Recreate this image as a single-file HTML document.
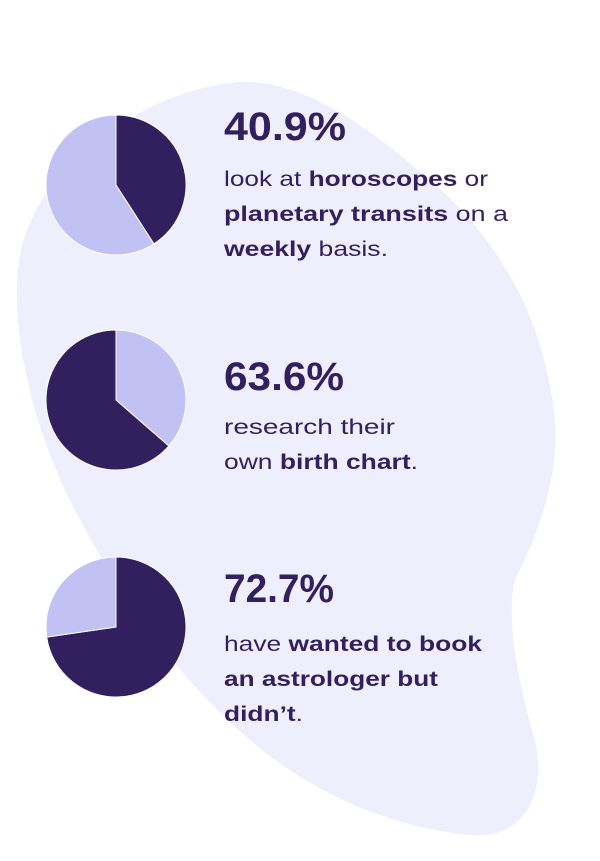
<!DOCTYPE html>
<html><head><meta charset="utf-8"><style>
html,body{margin:0;padding:0;background:#fff;width:600px;height:861px;overflow:hidden}
svg{display:block}
text{font-family:"Liberation Sans",sans-serif;fill:#321f5e}
.h{font-size:40px;font-weight:bold}
.b{font-size:21px}
.k{font-weight:bold}
</style></head><body>
<svg width="600" height="861" viewBox="0 0 600 861">
<path fill="#efeefc" d="M100,140 C150,100 200,85 240,82 C300,80 360,120 430,180 C500,240 545,320 555,420 C560,480 535,540 515,580 C505,620 520,690 535,740 C548,800 520,840 470,835 C400,828 320,800 250,740 C180,680 120,600 70,500 C30,420 12,330 18,270 C22,220 55,170 100,140 Z"/>
<g id="pies"></g>
<text class="h" x="224" y="140" textLength="122" lengthAdjust="spacingAndGlyphs">40.9%</text>
<text class="b" x="224" y="186" textLength="264" lengthAdjust="spacingAndGlyphs">look at <tspan class="k">horoscopes</tspan> or</text>
<text class="b" x="224" y="221" textLength="284" lengthAdjust="spacingAndGlyphs"><tspan class="k">planetary transits</tspan> on a</text>
<text class="b" x="224" y="256" textLength="164" lengthAdjust="spacingAndGlyphs"><tspan class="k">weekly</tspan> basis.</text>
<text class="h" x="224" y="390" textLength="120" lengthAdjust="spacingAndGlyphs">63.6%</text>
<text class="b" x="224" y="434" textLength="171" lengthAdjust="spacingAndGlyphs">research their</text>
<text class="b" x="224" y="469" textLength="194" lengthAdjust="spacingAndGlyphs">own <tspan class="k">birth chart</tspan>.</text>
<text class="h" x="224" y="602" textLength="110" lengthAdjust="spacingAndGlyphs">72.7%</text>
<text class="b" x="224" y="651" textLength="258" lengthAdjust="spacingAndGlyphs">have <tspan class="k">wanted to book</tspan></text>
<text class="b k" x="224" y="686" textLength="214" lengthAdjust="spacingAndGlyphs">an astrologer but</text>
<text class="b" x="224" y="721" textLength="79" lengthAdjust="spacingAndGlyphs"><tspan class="k">didn’t</tspan>.</text>
</svg>
<script>
const statLabels = ["weekly", "birth-chart", "book-astrologer"];
const percentValues = [40.9, 63.6, 72.7];
// 1 = highlighted share drawn dark, 0 = highlighted share drawn light
const darkIsShare = [1, 0, 1];
const NS = "http://www.w3.org/2000/svg";
const g = document.getElementById("pies");
const cx = 116, r = 70, cys = [185, 400, 627];
const dark = "#321f5e", light = "#c1c1f4";
function pt(cy, frac) {
  const a = frac * 2 * Math.PI;
  return [cx + r * Math.sin(a), cy - r * Math.cos(a)];
}
function slice(cy, f0, f1, color, name) {
  const p = document.createElementNS(NS, "path");
  const [x0, y0] = pt(cy, f0), [x1, y1] = pt(cy, f1);
  const large = (f1 - f0) > 0.5 ? 1 : 0;
  p.setAttribute("d", `M${cx},${cy} L${x0},${y0} A${r},${r} 0 ${large} 1 ${x1},${y1} Z`);
  p.setAttribute("fill", color);
  p.setAttribute("stroke", "#ffffff");
  p.setAttribute("stroke-width", "1");
  
  
  g.appendChild(p);
}
percentValues.forEach((v, i) => {
  const f = v / 100, cy = cys[i];
  let shareColor, restColor, shareFrac;
  if (darkIsShare[i]) { shareColor = dark; restColor = light; shareFrac = f; }
  else { shareColor = light; restColor = dark; shareFrac = 1 - f; }
  slice(cy, 0, shareFrac, shareColor, "pie-" + statLabels[i] + "-slice-a");
  slice(cy, shareFrac, 1, restColor, "pie-" + statLabels[i] + "-slice-b");
});
</script>
</body></html>
